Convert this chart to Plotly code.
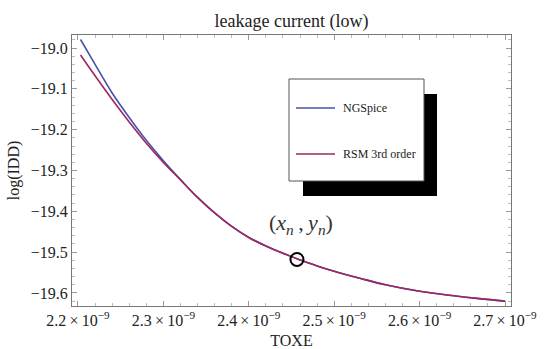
import plotly.graph_objects as go

# ---- data (TOXE in units of 1e-9) ----
toxe_ng = [2.203, 2.22, 2.24, 2.26, 2.28, 2.30, 2.32, 2.34, 2.36, 2.38, 2.40, 2.42,
           2.44, 2.46, 2.48, 2.50, 2.53, 2.56, 2.60, 2.64, 2.67, 2.70]
log_idd_ng = [-18.979, -19.040, -19.110, -19.170, -19.226, -19.276, -19.322, -19.366,
              -19.404, -19.437, -19.464, -19.485, -19.503, -19.519, -19.534, -19.547,
              -19.564, -19.580, -19.596, -19.607, -19.614, -19.620]
toxe_rsm = toxe_ng
log_idd_rsm = [-19.017, -19.068, -19.126, -19.181, -19.233, -19.280, -19.323, -19.366,
               -19.404, -19.437, -19.464, -19.485, -19.503, -19.519, -19.534, -19.547,
               -19.564, -19.580, -19.596, -19.607, -19.614, -19.620]
point_x = [2.4564]
point_y = [-19.518]

x_tick_vals = [2.2, 2.3, 2.4, 2.5, 2.6, 2.7]
x_tick_text = ["2.2\u2009×\u200910<sup>−9</sup>", "2.3\u2009×\u200910<sup>−9</sup>",
               "2.4\u2009×\u200910<sup>−9</sup>", "2.5\u2009×\u200910<sup>−9</sup>",
               "2.6\u2009×\u200910<sup>−9</sup>", "2.7\u2009×\u200910<sup>−9</sup>"]
y_tick_vals = [-19.0, -19.1, -19.2, -19.3, -19.4, -19.5, -19.6]
y_tick_text = ["−19.0", "−19.1", "−19.2", "−19.3", "−19.4", "−19.5", "−19.6"]

E = 1e-9
BLUE = "rgb(72,82,170)"
RED = "rgb(158,38,98)"
FONT = "Liberation Serif, Times New Roman, serif"

fig = go.Figure()
fig.add_trace(go.Scatter(x=[v * E for v in toxe_ng], y=log_idd_ng, mode="lines",
                         name="NGSpice", line=dict(color=BLUE, width=1.6, shape="spline")))
fig.add_trace(go.Scatter(x=[v * E for v in toxe_rsm], y=log_idd_rsm, mode="lines",
                         name="RSM 3rd order", line=dict(color=RED, width=1.6, shape="spline")))
fig.add_trace(go.Scatter(x=[v * E for v in point_x], y=point_y, mode="markers",
                         marker=dict(symbol="circle-open", size=13, color="black",
                                     line=dict(width=2, color="black")),
                         showlegend=False))

# plot area in pixels: left 72, right 511, top 35, bottom 306
L, R, T, B = 72, 511, 35, 306
def px(x):
    return (x - L) / (R - L)
def py(y):
    return (B - y) / (B - T)

shapes = [
    # shadow
    dict(type="rect", xref="paper", yref="paper", x0=px(303), x1=px(437), y0=py(196), y1=py(94),
         fillcolor="black", line=dict(width=0), layer="above"),
    # legend box
    dict(type="rect", xref="paper", yref="paper", x0=px(289), x1=px(424), y0=py(181), y1=py(79),
         fillcolor="white", line=dict(width=1, color="#555"), layer="above"),
    dict(type="line", xref="paper", yref="paper", x0=px(296), x1=px(335), y0=py(108), y1=py(108),
         line=dict(color=BLUE, width=1.6), layer="above"),
    dict(type="line", xref="paper", yref="paper", x0=px(296), x1=px(335), y0=py(154), y1=py(154),
         line=dict(color=RED, width=1.6), layer="above"),
]
annotations = [
    dict(xref="paper", yref="paper", x=px(341), y=py(108), xanchor="left", yanchor="middle",
         text="NGSpice", showarrow=False, font=dict(family=FONT, size=12, color="#222")),
    dict(xref="paper", yref="paper", x=px(341), y=py(154), xanchor="left", yanchor="middle",
         text="RSM 3rd order", showarrow=False, font=dict(family=FONT, size=12, color="#222")),
    dict(xref="paper", yref="paper", x=px(301), y=py(224), xanchor="center", yanchor="middle",
         text="(<i>x</i><sub><i>n</i></sub>\u2009,\u2009<i>y</i><sub><i>n</i></sub>)", showarrow=False,
         font=dict(family=FONT, size=22, color="#333")),
]

axis_common = dict(showline=True, linecolor="#777", linewidth=1, mirror="allticks",
                   ticks="inside", ticklen=5, tickcolor="#999", showgrid=False,
                   zeroline=False,
                   tickfont=dict(family=FONT, size=16, color="#222"))

fig.update_layout(
    width=544, height=349,
    margin=dict(l=L, r=544 - R, t=T, b=349 - B),
    paper_bgcolor="white", plot_bgcolor="white",
    showlegend=False,
    title=dict(text="leakage current (low)", x=(L + R) / 2 / 544, xanchor="center",
               y=1 - 21 / 349, yanchor="middle",
               font=dict(family=FONT, size=18, color="#222")),
    xaxis=dict(range=[2.193 * E, 2.707 * E], tickvals=[v * E for v in x_tick_vals],
               ticktext=x_tick_text, automargin=False,
               minor=dict(ticks="inside", ticklen=3, tickcolor="#bbb", dtick=0.02 * E,
                          tick0=2.2 * E),
               title=dict(text="TOXE", font=dict(family=FONT, size=16, color="#222")),
               **axis_common),
    yaxis=dict(range=[-19.632, -18.968], tickvals=y_tick_vals, ticktext=y_tick_text,
               automargin=True,
               minor=dict(ticks="inside", ticklen=3, tickcolor="#bbb", dtick=0.02, tick0=-19.0),
               title=dict(text="log(IDD)", font=dict(family=FONT, size=16, color="#222"),
                          standoff=7),
               **axis_common),
    shapes=shapes, annotations=annotations,
)

fig.write_html("out.html", config={"displayModeBar": False},
               post_script="document.body.style.margin='0';document.body.style.overflow='hidden';")
